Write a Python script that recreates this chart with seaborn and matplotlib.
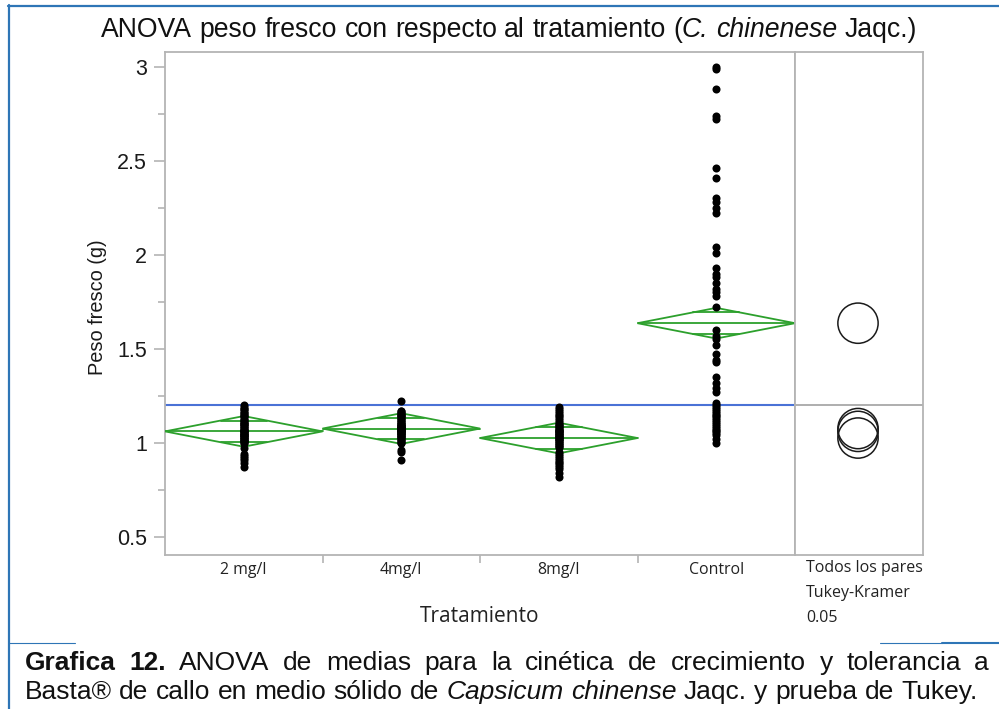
import numpy as np
import pandas as pd
import matplotlib
matplotlib.use("Agg")
import matplotlib.pyplot as plt
from matplotlib.patches import Polygon, Circle
from matplotlib.ticker import MultipleLocator, FixedLocator
import seaborn as sns

# ---- data -------------------------------------------------------------
tratamientos = ["2 mg/l", "4mg/l", "8mg/l", "Control"]

peso_2mg = [1.20, 1.19, 1.18, 1.18, 1.17, 1.16, 1.16, 1.15, 1.14, 1.14, 1.13, 1.12, 1.12,
            1.11, 1.11, 1.10, 1.10, 1.09, 1.09, 1.08, 1.08, 1.10, 1.07, 1.07, 1.06, 1.06,
            1.06, 1.05, 1.05, 1.05, 1.04, 1.04, 1.04, 1.04, 1.03, 1.03, 1.03, 1.02, 1.02,
            1.02, 1.01, 1.01, 1.01, 1.00, 1.00, 0.97, 0.94, 0.93, 0.92, 0.91, 0.89, 0.87]
peso_4mg = [1.22, 1.17, 1.17, 1.16, 1.16, 1.15, 1.15, 1.14, 1.14, 1.13, 1.13, 1.12, 1.12,
            1.11, 1.11, 1.10, 1.10, 1.10, 1.09, 1.09, 1.09, 1.08, 1.08, 1.08, 1.07, 1.07,
            1.07, 1.06, 1.06, 1.06, 1.05, 1.05, 1.05, 1.04, 1.04, 1.04, 1.03, 1.03, 1.03,
            1.02, 1.02, 1.01, 1.01, 1.00, 1.00, 1.09, 1.08, 1.05, 0.96, 0.95, 0.91, 1.08]
peso_8mg = [1.19, 1.18, 1.17, 1.16, 1.15, 1.14, 1.13, 1.12, 1.11, 1.10, 1.10, 1.09, 1.09,
            1.08, 1.08, 1.07, 1.07, 1.06, 1.06, 1.05, 1.05, 1.04, 1.04, 1.04, 1.03, 1.03,
            1.03, 1.02, 1.02, 1.02, 1.01, 1.01, 1.00, 1.00, 0.99, 0.99, 0.98, 0.98, 1.06,
            1.05, 0.95, 0.94, 0.93, 0.92, 0.91, 0.90, 0.89, 0.88, 0.87, 0.86, 0.84, 0.82]
peso_control = [3.00, 2.99, 2.88, 2.74, 2.72, 2.46, 2.41, 2.30, 2.28, 2.25, 2.22, 2.04, 2.01,
                1.93, 1.90, 1.88, 1.85, 1.82, 1.80, 1.78, 1.72, 1.60, 1.57, 1.55, 1.52, 1.47,
                1.44, 1.43, 1.35, 1.32, 1.29, 1.27, 1.21, 1.19, 1.16, 1.13, 1.11, 1.08, 1.06,
                1.00, 1.20, 1.18, 1.17, 1.15, 1.14, 1.12, 1.10, 1.09, 1.07, 1.05, 1.04, 1.02]

y_ticks = [0.5, 1.0, 1.5, 2.0, 2.5, 3.0]
y_tick_labels = ["0.5", "1", "1.5", "2", "2.5", "3"]

T_CRIT = 1.971   # t(0.975) for the pooled error degrees of freedom
Q_STAR = 2.588   # Tukey-Kramer q(0.05, k=4) / sqrt(2)

df = pd.DataFrame({
    "Tratamiento": np.repeat(tratamientos, [len(peso_2mg), len(peso_4mg), len(peso_8mg), len(peso_control)]),
    "Peso": peso_2mg + peso_4mg + peso_8mg + peso_control,
})

# one-way ANOVA summaries
grp = df.groupby("Tratamiento", sort=False)["Peso"]
means = grp.mean().reindex(tratamientos)
ns = grp.size().reindex(tratamientos)
sse = grp.apply(lambda v: ((v - v.mean()) ** 2).sum()).sum()
dfe = len(df) - len(tratamientos)
s_pooled = np.sqrt(sse / dfe)
se = s_pooled / np.sqrt(ns)
ci_half = T_CRIT * se
grand_mean = df["Peso"].mean()

# ---- figure -----------------------------------------------------------
sns.set_style("white")
W, H = 999, 709
fig = plt.figure(figsize=(W / 100, H / 100), dpi=100)
fig.patch.set_facecolor("white")


def px_rect(x0, y0, x1, y1):
    return [x0 / W, 1 - y1 / H, (x1 - x0) / W, (y1 - y0) / H]


FRAME = "#B4B4B4"
GREEN = "#2CA02C"
BLUE_BORDER = "#2E75B6"

ax = fig.add_axes(px_rect(165, 52, 795, 555))
ax2 = fig.add_axes(px_rect(795, 52, 923, 555), sharey=ax)

sns.stripplot(data=df, x="Tratamiento", y="Peso", order=tratamientos, jitter=False,
              color="black", size=5.8, linewidth=0, ax=ax, zorder=4)

# means diamonds with overlap marks
k_over = 1 / np.sqrt(2)
for i, t in enumerate(tratamientos):
    m, h = means[t], ci_half[t]
    poly = Polygon([(i - 0.5, m), (i, m + h), (i + 0.5, m), (i, m - h)], closed=True,
                   fill=False, ec=GREEN, lw=1.3, zorder=3)
    ax.add_patch(poly)
    ax.plot([i - 0.5, i + 0.5], [m, m], color=GREEN, lw=1.3, zorder=3)
    half_w = 0.5 * (1 - k_over)
    for sgn in (1, -1):
        ax.plot([i - half_w, i + half_w], [m + sgn * h * k_over] * 2, color=GREEN, lw=1.3, zorder=3)

ax.axhline(grand_mean, color="#4A72D6", lw=1.5, zorder=2)

ylo, yhi = 0.403, 3.078
ax.set_xlim(-0.5, 3.5)
ax.set_ylim(ylo, yhi)
ax.yaxis.set_major_locator(FixedLocator(y_ticks))
ax.set_yticklabels(y_tick_labels)
ax.yaxis.set_minor_locator(MultipleLocator(0.25))
ax.tick_params(axis="y", which="major", length=8, width=1.2, color=FRAME, pad=5,
               labelsize=15.5, labelcolor="#1a1a1a", left=True)
ax.tick_params(axis="y", which="minor", length=5, width=1.2, color=FRAME, left=True)
for lab in ax.get_yticklabels():
    lab.set_family("Liberation Sans")

ax.set_xticks(range(len(tratamientos)))
ax.set_xticklabels(tratamientos)
ax.xaxis.set_minor_locator(FixedLocator([0.5, 1.5, 2.5]))
ax.tick_params(axis="x", which="major", length=0, pad=5, labelsize=11.4, labelcolor="#222222")
ax.tick_params(axis="x", which="minor", length=6, width=1.2, color=FRAME, bottom=True)
for lab in ax.get_xticklabels():
    lab.set_family("Open Sans")

ax.set_xlabel("")
ax.set_ylabel("Peso fresco (g)", family="Liberation Sans", fontsize=14.4, color="#1a1a1a")
ax.yaxis.set_label_coords((107 - 165) / 630, (555 - 307) / 503)

for a in (ax, ax2):
    for sp in a.spines.values():
        sp.set_visible(True)
        sp.set_color(FRAME)
        sp.set_linewidth(1.3)

# comparison circles panel
ax2_w, ax2_h = 128, 503
x_span = (yhi - ylo) * ax2_w / ax2_h
ax2.set_xlim(0, x_span)
cx = x_span * (858 - 795) / ax2_w
ax2.axhline(grand_mean, color="#A8A8A8", lw=1.3, zorder=1)
for t in tratamientos:
    ax2.add_patch(Circle((cx, means[t]), Q_STAR * se[t], fill=False, ec="#1a1a1a", lw=1.1, zorder=3))
ax2.set_xticks([])
ax2.tick_params(axis="y", which="both", left=False, labelleft=False)

# ---- text helpers -----------------------------------------------------
renderer = fig.canvas.get_renderer()


def fx(x):
    return x / W


def fy(y):
    return 1 - y / H


def width_px(s, **kw):
    t = fig.text(0, 0, s, **kw)
    w = t.get_window_extent(renderer).width
    t.remove()
    return w


def draw_tokens(tokens, x0, y_base, base_kw, justify_to=None):
    """tokens: (text, style dict, space_after) drawn on one baseline."""
    widths = [width_px(t, **{**base_kw, **st}) for t, st, _ in tokens]
    space = width_px("a a", **base_kw) - width_px("aa", **base_kw)
    n_sp = sum(1 for _, _, sp in tokens[:-1] if sp)
    if justify_to is not None and n_sp:
        space = (justify_to - x0 - sum(widths)) / n_sp
    x = x0
    for (t, st, sp), w in zip(tokens, widths):
        fig.text(fx(x), fy(y_base), t, ha="left", va="baseline", **{**base_kw, **st})
        x += w + (space if sp else 0)
    return x


def tokens_from(text, style):
    words = text.split(" ")
    return [(w, style, True) for w in words]


NORMAL = {}
ITALIC = {"style": "italic"}
BOLD = {"weight": "bold"}

# title
title_kw = dict(family="Liberation Sans", fontsize=19.2, color="#111111")
title_tokens = (tokens_from("ANOVA peso fresco con respecto al tratamiento", NORMAL)
                + [("(", NORMAL, False)]
                + tokens_from("C. chinenese", ITALIC)
                + [("Jaqc.)", NORMAL, False)])
tw = [width_px(t, **{**title_kw, **st}) for t, st, _ in title_tokens]
sp_w = width_px("a a", **title_kw) - width_px("aa", **title_kw)
total = sum(tw) + sp_w * sum(1 for _, _, s in title_tokens[:-1] if s)
draw_tokens(title_tokens, 509 - total / 2, 37, title_kw)

# axis annotations
fig.text(fx(480), fy(617), "Tratamiento", ha="center", va="center",
         family="Open Sans", fontsize=15, color="#222222")
for i, line in enumerate(["Todos los pares", "Tukey-Kramer", "0.05"]):
    fig.text(fx(806), fy(568 + 25 * i), line, ha="left", va="center",
             family="Open Sans", fontsize=11.5, color="#222222")

# caption
cap_kw = dict(family="Liberation Sans", fontsize=19, color="#111111")
line1 = ([("Grafica", BOLD, True), ("12.", BOLD, True)]
         + tokens_from("ANOVA de medias para la cinética de crecimiento y tolerancia a", NORMAL))
draw_tokens(line1, 25, 670, cap_kw, justify_to=989)
line2 = (tokens_from("Basta® de callo en medio sólido de", NORMAL)
         + tokens_from("Capsicum chinense", ITALIC)
         + tokens_from("Jaqc. y prueba de Tukey.", NORMAL))
draw_tokens(line2, 25, 699, cap_kw)

# document frame lines
def hline(y, x0, x1, lw):
    fig.add_artist(plt.Line2D([fx(x0), fx(x1)], [fy(y), fy(y)], color=BLUE_BORDER, lw=lw))


def vline(x, y0, y1, lw):
    fig.add_artist(plt.Line2D([fx(x), fx(x)], [fy(y0), fy(y1)], color=BLUE_BORDER, lw=lw))


hline(5.8, 8, 999, 1.6)
vline(9, 5, 709, 1.6)
hline(643, 9, 75, 0.8)
hline(643, 880, 942, 0.8)
hline(643, 942, 999, 1.5)

fig.savefig("out.png", dpi=100, facecolor="white")
